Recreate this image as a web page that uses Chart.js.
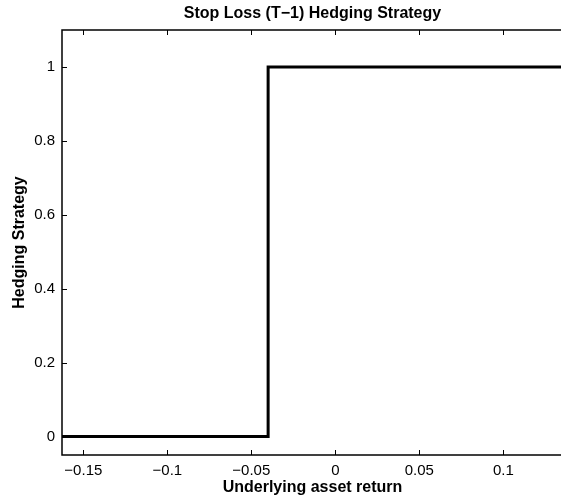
<!DOCTYPE html>
<html>
<head>
<meta charset="utf-8">
<script src="https://cdn.jsdelivr.net/npm/chart.js@4.4.1/dist/chart.umd.min.js"></script>
<style>
  html, body { margin: 0; padding: 0; background: #fff; width: 561px; height: 502px; overflow: hidden; }
  #wrap { position: relative; width: 580px; height: 502px; }
</style>
</head>
<body>
<div id="wrap"><canvas id="c" width="580" height="502"></canvas></div>
<script>
// Data
const returns = [-0.17, -0.04, -0.04, 0.15];
const hedge = [0, 0, 1, 1];
const xTicks = [-0.15, -0.1, -0.05, 0, 0.05, 0.1];
const yTicks = [0, 0.2, 0.4, 0.6, 0.8, 1];
const titleText = 'Stop Loss (T\u22121) Hedging Strategy';
const xLabel = 'Underlying asset return';
const yLabel = 'Hedging Strategy';

const FONT = "'Liberation Sans', Arial, Helvetica, sans-serif";
const fmt = v => {
  if (Math.abs(v) < 1e-12) return '0';
  const s = String(Math.round(v * 1000) / 1000);
  return s.replace('-', '\u2212');
};

const frame = {
  id: 'frame',
  afterDraw(chart) {
    const { ctx, chartArea: a, scales } = chart;
    ctx.save();
    ctx.strokeStyle = '#000';
    ctx.lineWidth = 1;
    const tl = 5;
    xTicks.forEach(v => {
      const x = Math.round(scales.x.getPixelForValue(v)) + 0.5;
      ctx.beginPath();
      ctx.moveTo(x, a.bottom); ctx.lineTo(x, a.bottom - tl);
      ctx.moveTo(x, a.top); ctx.lineTo(x, a.top + tl);
      ctx.stroke();
    });
    yTicks.forEach(v => {
      const y = Math.round(scales.y.getPixelForValue(v)) + 0.5;
      ctx.beginPath();
      ctx.moveTo(a.left, y); ctx.lineTo(a.left + tl, y);
      ctx.moveTo(a.right, y); ctx.lineTo(a.right - tl, y);
      ctx.stroke();
    });
    ctx.lineWidth = 1.5;
    ctx.strokeRect(a.left, a.top, a.right - a.left, a.bottom - a.top);
    ctx.fillStyle = '#000';
    const cx = (a.left + 563) / 2;
    const cy = (a.top + a.bottom) / 2;
    ctx.font = 'bold 16px ' + FONT;
    ctx.textAlign = 'center';
    ctx.textBaseline = 'middle';
    ctx.fillText(titleText, cx, 14);
    ctx.fillText(xLabel, cx, 488);
    ctx.translate(20, cy);
    ctx.rotate(-Math.PI / 2);
    ctx.fillText(yLabel, 0, 0);
    ctx.restore();
  }
};

new Chart(document.getElementById('c'), {
  type: 'line',
  data: {
    datasets: [{
      data: returns.map((x, i) => ({ x, y: hedge[i] })),
      borderColor: '#000',
      borderWidth: 3,
      pointRadius: 0,
      tension: 0,
      fill: false
    }]
  },
  options: {
    responsive: false,
    animation: false,
    events: [],
    layout: { padding: { top: 30, right: 10, left: 0, bottom: 0 } },
    plugins: { legend: { display: false }, title: { display: false }, tooltip: { enabled: false } },
    scales: {
      x: {
        type: 'linear',
        min: -0.1627,
        max: 0.1397,
        grid: { display: false, drawTicks: false },
        border: { display: false },
        afterBuildTicks: s => { s.ticks = xTicks.map(v => ({ value: v })); },
        afterFit: s => { s.height = 47; },
        ticks: {
          callback: v => fmt(v),
          color: '#000',
          font: { family: FONT, size: 15 },
          padding: 7,
          maxRotation: 0,
          autoSkip: false
        }
      },
      y: {
        type: 'linear',
        min: -0.05,
        max: 1.1,
        grid: { display: false, drawTicks: false },
        border: { display: false },
        afterBuildTicks: s => { s.ticks = yTicks.map(v => ({ value: v })); },
        afterFit: s => { s.width = 62; },
        ticks: {
          callback: v => fmt(v),
          color: '#000',
          font: { family: FONT, size: 15 },
          padding: 7,
          autoSkip: false
        }
      }
    }
  },
  plugins: [frame]
});
</script>
</body>
</html>
